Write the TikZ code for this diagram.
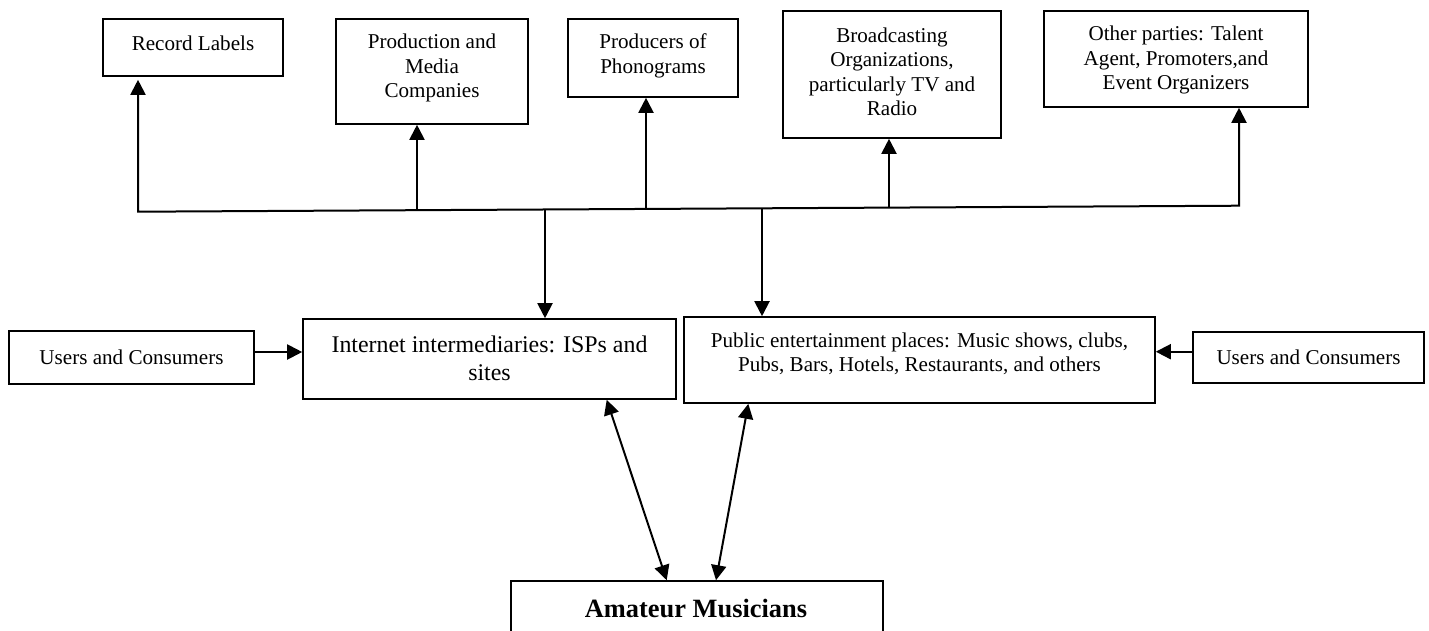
\documentclass[tikz,border=0pt]{standalone}
\usepackage{fontspec}
\setmainfont{Liberation Serif}
\usetikzlibrary{arrows.meta,calc}
\begin{document}
\begin{tikzpicture}[x=1pt,y=-1pt,
  box/.style={draw, line width=1.6pt, inner sep=0pt},
  lbl/.style={inner sep=0pt, align=center, font=\fontsize{21.1}{24.5}\selectfont},
  lblbig/.style={inner sep=0pt, align=center, font=\fontsize{23.9}{27.5}\selectfont},
  lblbold/.style={inner sep=0pt, align=center, font=\fontsize{26.4}{30}\selectfont\bfseries},
  conn/.style={line width=2pt},
  arr/.style={conn, -{Triangle[length=15pt,width=15pt]}},
  darr/.style={conn, {Triangle[length=15pt,width=15pt]}-{Triangle[length=15pt,width=15pt]}}
]
\useasboundingbox (0,0) rectangle (1429,630);
\clip (0,0) rectangle (1429,630);
\fill[white] (0,0) rectangle (1429,630);

% parties reached through the intermediaries
\node[box, minimum width=180pt, minimum height=57pt] (rec) at (193,47.5) {};
\node[lbl] (recT) at (193,43.5) {Record Labels};
\node[box, minimum width=192pt, minimum height=105pt] (prod) at (432,71.5) {};
\node[lbl] (prodT) at (432,68) {Production and\\Media\\Companies};
\node[box, minimum width=170pt, minimum height=78pt] (phon) at (653,58) {};
\node[lbl] (phonT) at (653,56) {Producers of\\Phonograms};
\node[box, minimum width=218pt, minimum height=127pt] (brd) at (892,74.5) {};
\node[lbl] (brdT) at (892,72) {Broadcasting\\Organizations,\\particularly TV and\\Radio};
\node[box, minimum width=264pt, minimum height=96pt] (oth) at (1176,59) {};
\node[lbl] (othT) at (1176,60) {Other parties: Talent\\Agent, Promoters,and\\Event Organizers};

% intermediaries and their users
\node[box, minimum width=245pt, minimum height=53pt] (usrL) at (131.5,357.5) {};
\node[lbl] (usrLT) at (131.5,357) {Users and Consumers};
\node[box, minimum width=373pt, minimum height=80pt] (inet) at (489.5,359) {};
\node[lblbig] (inetT) at (489.5,358.5) {Internet intermediaries: ISPs and\\sites};
\node[box, minimum width=471pt, minimum height=86pt] (pub) at (919.5,360) {};
\node[lbl] (pubT) at (919.5,354) {Public entertainment places: Music shows, clubs,\\Pubs, Bars, Hotels, Restaurants, and others};
\node[box, minimum width=231pt, minimum height=51pt] (usrR) at (1308.5,357.5) {};
\node[lbl] (usrRT) at (1308.5,357) {Users and Consumers};

% musicians
\node[box, minimum width=372pt, minimum height=64pt] (ama) at (697,613) {};
\node[lblbold] (amaT) at (696,608) {Amateur Musicians};

% distribution bus
\coordinate (busL) at (138,211.7);
\coordinate (busR) at (1239,205.7);
\coordinate (jProd) at (417,210.2);
\coordinate (jInet) at (545,209.5);
\coordinate (jPhon) at (646,208.9);
\coordinate (jPub) at (762,208.3);
\coordinate (jBrd) at (889,207.6);

\draw[darr, shorten <=3pt] (busL |- rec.south) -- (busL) -- (busR) -- (busR |- oth.south);
\draw[arr] (jProd) -- (jProd |- prod.south);
\draw[arr] (jPhon) -- (jPhon |- phon.south);
\draw[arr] (jBrd) -- (jBrd |- brd.south);
\draw[arr] (jInet) -- (jInet |- inet.north);
\draw[arr] (jPub) -- (jPub |- pub.north);

% users feeding the intermediaries
\draw[arr] ([yshift=5.5pt]usrL.east) coordinate (ua) -- (ua -| inet.west);
\draw[arr] ([yshift=5.8pt]usrR.west) coordinate (ub) -- (ub -| pub.east);

% two-way links with the musicians
\draw[darr] ([xshift=117.2pt]inet.south) -- ([xshift=-30.3pt]ama.north);
\draw[darr] ([xshift=-171.2pt]pub.south) -- ([xshift=19pt]ama.north);
\end{tikzpicture}
\end{document}
